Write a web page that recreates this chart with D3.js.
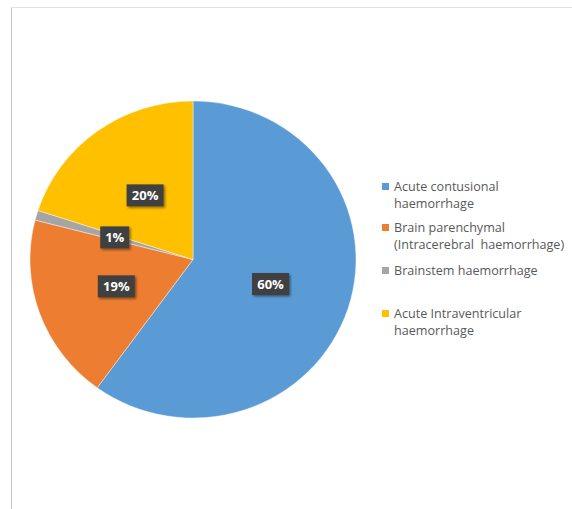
<!DOCTYPE html>
<html><head><meta charset="utf-8">
<script src="https://cdn.jsdelivr.net/npm/d3@7/dist/d3.min.js"></script>
<style>
html,body{margin:0;padding:0;background:#fff;}
</style></head>
<body><svg id="c" width="572" height="509"></svg>
<script>
const categories = ["Acute contusional haemorrhage", "Brain parenchymal (Intracerebral  haemorrhage)", "Brainstem haemorrhage", "Acute Intraventricular haemorrhage"];
const legendLines = [["Acute contusional", "haemorrhage"], ["Brain parenchymal", "(Intracerebral  haemorrhage)"], ["Brainstem haemorrhage"], ["Acute Intraventricular", "haemorrhage"]];
const values = [60, 19, 1, 20];
const labels = ["60%", "19%", "1%", "20%"];
const colors = ["#5B9BD5", "#ED7D31", "#A5A5A5", "#FFC000"];

const svg = d3.select("#c");
const defs = svg.append("defs");
const f = defs.append("filter").attr("id","sh").attr("x","-30%").attr("y","-30%").attr("width","160%").attr("height","160%");
f.append("feDropShadow").attr("dx",1.5).attr("dy",1.5).attr("stdDeviation",1.2).attr("flood-color","#000").attr("flood-opacity",0.45);

// frame
svg.append("line").attr("x1",11.5).attr("x2",11.5).attr("y1",7).attr("y2",509).attr("stroke","#c8c8c8").attr("stroke-width",1);
svg.append("line").attr("x1",11).attr("x2",572).attr("y1",7.5).attr("y2",7.5).attr("stroke","#e2e2e2").attr("stroke-width",1);

const cx = 193, cy = 259.5, r = 158.5, sx = 163 / 158.5;
const pie = d3.pie().sort(null).value(d => d);
const arcs = pie(values);
const arc = d3.arc().innerRadius(0).outerRadius(r);
const g = svg.append("g").attr("transform", `translate(${cx},${cy})`);
g.append("g").attr("transform", `scale(${sx},1)`)
  .selectAll("path.s").data(arcs).enter().append("path").attr("class","s")
  .attr("d", arc).attr("fill", (d,i) => colors[i]).attr("stroke","#fff").attr("stroke-width",0.4);

const lab = g.selectAll("g.l").data(arcs).enter().append("g").attr("class","l")
  .attr("transform", d => { const c = arc.centroid(d); return `translate(${c[0]*sx},${c[1]})`; });
lab.each(function(d,i){
  const s = d3.select(this);
  const t = labels[i];
  const w = t.length === 2 ? 29 : 37;
  s.append("rect").attr("x",-w/2).attr("y",-11).attr("width",w).attr("height",22)
    .attr("fill","#404040").attr("filter","url(#sh)");
  s.append("text").attr("text-anchor","middle").attr("dy","0.36em")
    .attr("font-family","'Open Sans', 'Liberation Sans', sans-serif").attr("font-weight","bold")
    .attr("font-size",13).attr("fill","#fff").text(t);
});

// legend
const legY = [187, 228, 271, 314];
const lg = svg.append("g");
legendLines.forEach((lines,i) => {
  lg.append("rect").attr("x",382).attr("y",legY[i]-4).attr("width",7).attr("height",7).attr("fill",colors[i]);
  const t = lg.append("text").attr("x",394).attr("y",legY[i])
    .attr("font-family","'Open Sans', 'Liberation Sans', sans-serif").attr("font-size",12.6).attr("fill","#595959");
  lines.forEach((ln,j) => {
    t.append("tspan").attr("x",394).attr("dy", j===0 ? "0.35em" : 17).attr("xml:space","preserve").text(ln);
  });
});
</script></body></html>
